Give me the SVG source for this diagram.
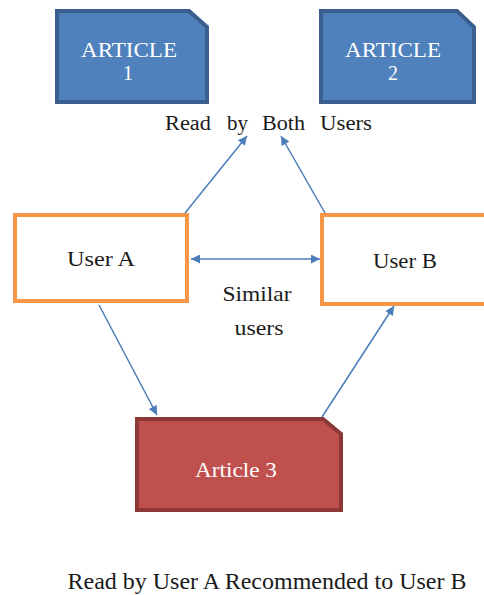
<svg xmlns="http://www.w3.org/2000/svg" width="484" height="595" viewBox="0 0 484 595">
<style>
  text { font-family: Liberation Serif, Tinos, Times New Roman, Noto Serif, DejaVu Serif, serif; }
  .blue { fill: #4F81BD; stroke: #3A5F8E; stroke-width: 4; }
  .red { fill: #C0504D; stroke: #8C3836; stroke-width: 4; }
  .user { fill: #FFFFFF; stroke: #F79646; stroke-width: 4; }
  .wt { fill: #FFFFFF; font-size: 20px; text-anchor: middle; }
  .bt { fill: #1A1A1A; font-size: 21px; text-anchor: middle; }
  .rb { fill: #1A1A1A; font-size: 20px; text-anchor: start; }
  .conn { stroke: #4A7EBB; stroke-width: 1.5; fill: none; }
</style>
<defs>
  <marker id="ah" viewBox="0 0 10 10" refX="10" refY="5" markerWidth="10" markerHeight="9" orient="auto-start-reverse" markerUnits="userSpaceOnUse">
    <path d="M0,0 L10,5 L0,10 z" fill="#4A7EBB"/>
  </marker>
</defs>
<g id="article1">
  <path class="blue" d="M57,11 H189 L207,27 V102 H57 Z"/>
  <text class="wt" x="129" y="57" textLength="96" lengthAdjust="spacingAndGlyphs">ARTICLE</text>
  <text class="wt" x="128" y="80">1</text>
</g>
<g id="article2">
  <path class="blue" d="M321,11 H457 L474,27 V102 H321 Z"/>
  <text class="wt" x="393" y="57" textLength="96" lengthAdjust="spacingAndGlyphs">ARTICLE</text>
  <text class="wt" x="393" y="80">2</text>
</g>
<g id="userA">
  <rect class="user" x="15" y="215" width="172" height="86"/>
  <text class="bt" x="101" y="266" textLength="68" lengthAdjust="spacingAndGlyphs">User A</text>
</g>
<g id="userB">
  <rect class="user" x="322" y="215" width="166" height="89"/>
  <text class="bt" x="405" y="268" textLength="64" lengthAdjust="spacingAndGlyphs">User B</text>
</g>
<g id="article3">
  <path class="red" d="M137,419 H323 L341,434 V510 H137 Z"/>
  <text class="wt" x="236" y="477" style="font-size:21px" textLength="82" lengthAdjust="spacingAndGlyphs">Article 3</text>
</g>
<g id="labels">
  <text class="rb" x="165" y="130" textLength="46" lengthAdjust="spacingAndGlyphs">Read</text>
  <text class="rb" x="227" y="130" textLength="21" lengthAdjust="spacingAndGlyphs">by</text>
  <text class="rb" x="262" y="130" textLength="43" lengthAdjust="spacingAndGlyphs">Both</text>
  <text class="rb" x="320" y="130" textLength="52" lengthAdjust="spacingAndGlyphs">Users</text>
  <text class="bt" x="257" y="301" textLength="69" lengthAdjust="spacingAndGlyphs">Similar</text>
  <text class="bt" x="259" y="335" textLength="49" lengthAdjust="spacingAndGlyphs">users</text>
  <text class="bt" x="267" y="589" style="font-size:23px" textLength="399" lengthAdjust="spacingAndGlyphs">Read by User A Recommended to User B</text>
</g>
<g id="connectors">
  <line class="conn" x1="185" y1="213" x2="247" y2="136" marker-end="url(#ah)"/>
  <line class="conn" x1="325" y1="213" x2="281" y2="136" marker-end="url(#ah)"/>
  <line class="conn" x1="191" y1="259" x2="320" y2="259" marker-start="url(#ah)" marker-end="url(#ah)"/>
  <line class="conn" x1="99" y1="305" x2="157" y2="415" marker-end="url(#ah)"/>
  <line class="conn" x1="322" y1="417" x2="394" y2="306" marker-end="url(#ah)"/>
</g>
</svg>
